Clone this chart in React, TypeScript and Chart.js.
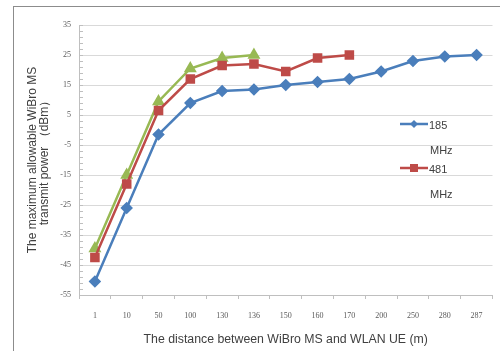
import React, { useEffect, useRef } from "react";
import { Chart, registerables } from "chart.js";

Chart.register(...registerables);

const categories = ["1", "10", "50", "100", "130", "136", "150", "160", "170", "200", "250", "280", "287"];
const series185 = [-50.5, -26, -1.5, 9, 13, 13.5, 15, 16, 17, 19.5, 23, 24.5, 25];
const series481 = [-42.5, -18, 6.5, 17, 21.5, 22, 19.5, 24, 25, null, null, null, null];
const seriesGreen = [-39.5, -15, 9.5, 20.5, 24, 25, null, null, null, null, null, null, null];
const legendLabels = [["185", "MHz"], ["481", "MHz"]];
const yTitle = ["The maximum allowable WiBro MS", "transmit power （dBm）"];
const xTitle = "The distance between WiBro MS and WLAN UE (m)";

const BLUE = "#4a7ebb";
const RED = "#be4b48";
const GREEN = "#98b954";

export default function App() {
  const ref = useRef<HTMLCanvasElement | null>(null);
  useEffect(() => {
    if (!ref.current) return;
    const decor = {
      id: "decor",
      beforeDraw(chart: any) {
        const ctx = chart.ctx;
        ctx.save();
        ctx.fillStyle = "#ffffff";
        ctx.fillRect(0, 0, chart.width, chart.height);
        ctx.strokeStyle = "#8c8c8c";
        ctx.lineWidth = 1;
        ctx.strokeRect(13.5, 6.5, 600, 500);
        ctx.restore();
      },
      afterDraw(chart: any) {
        const ctx = chart.ctx;
        const y = chart.scales.y;
        const area = chart.chartArea;
        ctx.save();
        // minor ticks on the y axis
        ctx.strokeStyle = "#bfbfbf";
        ctx.lineWidth = 1;
        for (let v = -55; v <= 35; v += 2) {
          const py = Math.round(y.getPixelForValue(v)) + 0.5;
          ctx.beginPath();
          ctx.moveTo(area.left, py);
          ctx.lineTo(area.left + 4, py);
          ctx.stroke();
        }
        // legend
        const entries = [
          { color: BLUE, style: "diamond", labels: legendLabels[0], y: 124 },
          { color: RED, style: "square", labels: legendLabels[1], y: 168 },
        ];
        ctx.font = "11px 'Liberation Sans', Arial, sans-serif";
        ctx.textBaseline = "middle";
        ctx.fillStyle = "#404040";
        for (const e of entries) {
          ctx.strokeStyle = e.color;
          ctx.lineWidth = 2.5;
          ctx.beginPath();
          ctx.moveTo(400, e.y);
          ctx.lineTo(428, e.y);
          ctx.stroke();
          ctx.fillStyle = e.color;
          ctx.beginPath();
          if (e.style === "diamond") {
            ctx.moveTo(414, e.y - 4);
            ctx.lineTo(418, e.y);
            ctx.lineTo(414, e.y + 4);
            ctx.lineTo(410, e.y);
            ctx.closePath();
          } else {
            ctx.rect(410, e.y - 4, 8, 8);
          }
          ctx.fill();
          ctx.fillStyle = "#404040";
          ctx.fillText(e.labels[0], 429, e.y + 2);
          ctx.fillText(e.labels[1], 430, e.y + 27);
        }
        ctx.restore();
      },
    };
    const chart = new Chart(ref.current, {
      type: "line",
      data: {
        labels: categories,
        datasets: [
          {
            label: "185 MHz",
            data: series185,
            borderColor: BLUE,
            backgroundColor: BLUE,
            borderWidth: 2.5,
            pointStyle: "rectRot",
            pointRadius: 4.5,
            tension: 0,
          },
          {
            label: "481 MHz",
            data: series481,
            borderColor: RED,
            backgroundColor: RED,
            borderWidth: 2.5,
            pointStyle: "rect",
            pointRadius: 5,
            tension: 0,
          },
          {
            label: "Other",
            data: seriesGreen,
            borderColor: GREEN,
            backgroundColor: GREEN,
            borderWidth: 2.5,
            pointStyle: "triangle",
            pointRadius: 5,
            tension: 0,
          },
        ],
      },
      options: {
        animation: false,
        responsive: false,
        layout: { padding: { left: 22, top: 25, right: 6, bottom: 4 } },
        plugins: { legend: { display: false }, tooltip: { enabled: false } },
        scales: {
          x: {
            type: "category",
            offset: true,
            grid: {
              offset: true,
              drawOnChartArea: false,
              drawTicks: true,
              tickLength: 4,
              color: "#bfbfbf",
            },
            border: { color: "#bfbfbf" },
            ticks: {
              color: "#595959",
              font: { family: "'Liberation Serif', serif", size: 8 },
              padding: 12,
              maxRotation: 0,
              autoSkip: false,
            },
            title: {
              display: true,
              text: xTitle,
              color: "#404040",
              font: { family: "'Liberation Sans', Arial, sans-serif", size: 12.3 },
              padding: { top: 4, bottom: 0 },
            },
            afterFit(scale: any) {
              scale.height = 52;
            },
          },
          y: {
            min: -55,
            max: 35,
            grid: { color: "#d9d9d9", drawTicks: false },
            border: { color: "#bfbfbf" },
            ticks: {
              stepSize: 10,
              color: "#595959",
              font: { family: "'Liberation Serif', serif", size: 8 },
              padding: 8,
            },
            title: {
              display: true,
              text: yTitle,
              color: "#404040",
              font: { family: "'Liberation Sans', Arial, sans-serif", size: 12, lineHeight: 1.0 },
              padding: { top: 5, bottom: 0 },
            },
            afterFit(scale: any) {
              scale.width = 57;
            },
          },
        },
      },
      plugins: [decor],
    });
    return () => chart.destroy();
  }, []);
  return (
    <div style={{ position: "absolute", left: 0, top: 0, width: 500, height: 351 }}>
      <canvas ref={ref} width={500} height={351} style={{ display: "block" }} />
    </div>
  );
}
